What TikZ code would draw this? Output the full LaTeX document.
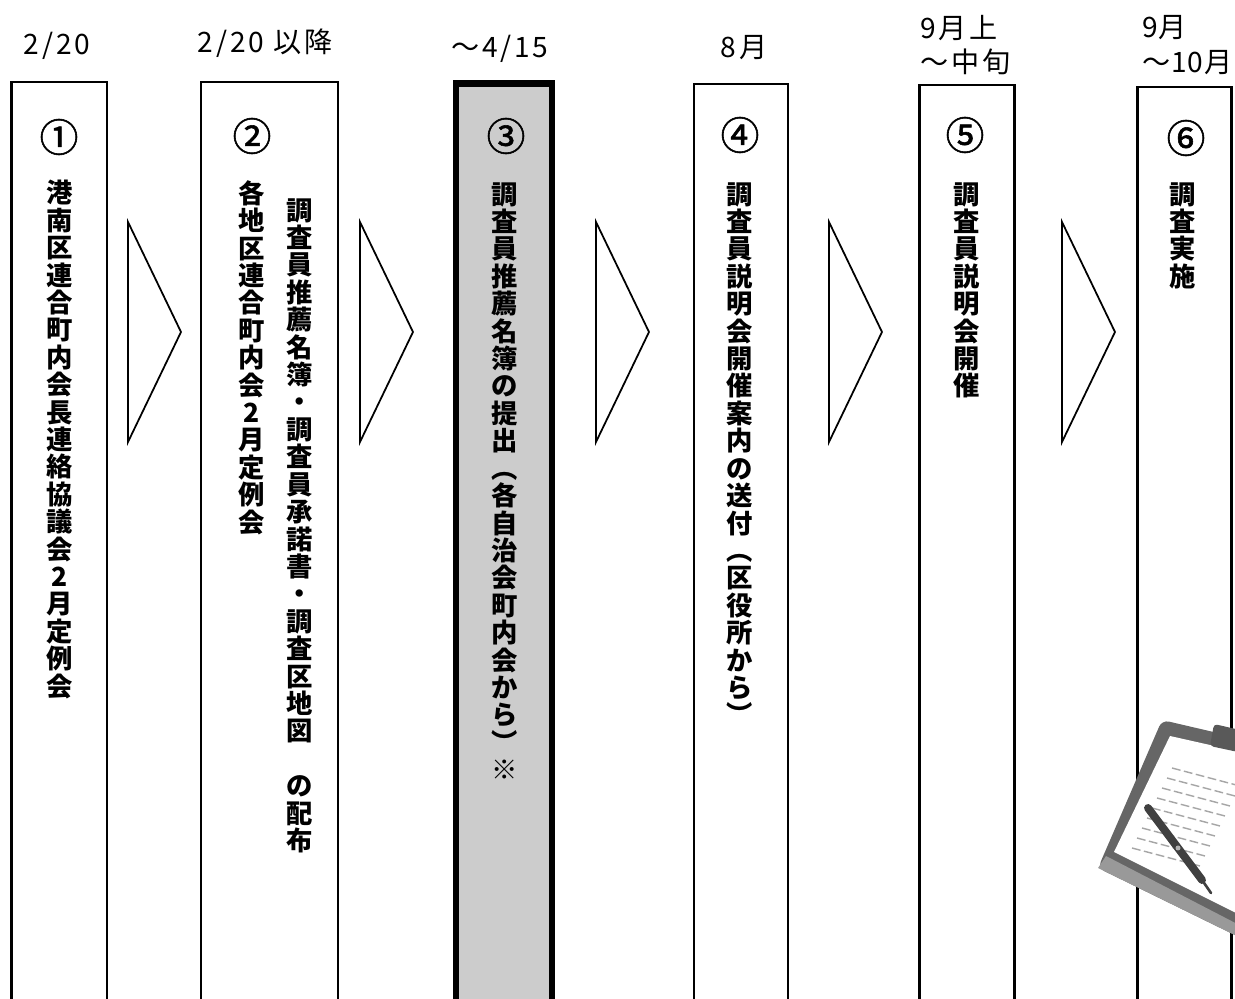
\documentclass[tikz,border=0pt]{standalone}
\usepackage{fontspec}
\usetikzlibrary{calc}
\setmainfont{Noto Sans CJK JP}
\newfontfamily\datefamily{Noto Sans CJK JP}[LetterSpace=10]
\newfontfamily\datetight{Noto Sans CJK JP}[LetterSpace=3]
\newfontfamily\nofamily{Noto Sans CJK JP}[FakeBold=1.5]
\def\txtsize{\fontsize{15pt}{15.6pt}\selectfont}

% one character per line, for the vertical labels
\makeatletter
\newcommand\tate[1]{\vbox{\baselineskip=15.6pt\lineskiplimit=-20pt
  \@tfor\tch:=#1\do{\hbox to 1em{\hss\tch\hss}}}}
\makeatother

\tikzset{
  stepcol/.style={draw, line width=1.4pt},
  nowcol/.style={draw, line width=3.8pt, fill=black!20},
  chevron/.style={draw, line width=1pt, line join=miter},
  datelabel/.style={font=\datefamily\fontsize{16pt}{19.8pt}\selectfont, inner sep=0pt},
  stepno/.style={font=\nofamily\fontsize{22pt}{24pt}\selectfont, inner sep=0pt},
  steptext/.style={font=\txtsize\bfseries, inner sep=0pt, anchor=north},
}

\begin{document}
\begin{tikzpicture}[x=0.02cm, y=-0.02cm]
    \useasboundingbox (0,0) rectangle (1235,999);
    \clip (0,0) rectangle (1235,999);

    % columns
    \foreach \l/\r/\t in {11.5/107/82, 201/338/82, 694/788/84, 919.5/1014.5/85, 1137.5/1231.5/87}
        \draw[stepcol] (\l,\t) rectangle (\r,1010);
    \draw[nowcol] (456,83.5) rectangle (552,1010);

    % arrows between the columns
    \foreach \x in {128,360,596,829,1062}
        \draw[chevron] (\x,222) -- ++(53,110) -- ++(-53,110) -- cycle;

    % dates
    \node[datelabel] (d1) at (57,46) {2/20};
    \node[datelabel] (d2) at (265,43) {2/20 以降};
    \node[datelabel] (d3) at (500,49) {～4/15};
    \node[datelabel] (d4) at (744,48) {8月};
    \node[datelabel, anchor=west, align=left] (d5) at (920,45) {9月上\\～中旬};
    \node[datelabel, font=\datetight\fontsize{16pt}{19.8pt}\selectfont, anchor=west, align=left] (d6) at (1142,45) {9月\\～10月};

    % step numbers
    \node[stepno] (n1) at (59,137) {①};
    \node[stepno] (n2) at (252,136) {②};
    \node[stepno] (n3) at (506,136) {③};
    \node[stepno] (n4) at (740,135) {④};
    \node[stepno] (n5) at (965,135) {⑤};
    \node[stepno] (n6) at (1186,138) {⑥};

    % vertical labels
    \node[steptext] (t1) at (60,180) {\tate{港南区連合町内会長連絡協議会2月定例会}};
    \node[steptext] (t2a) at (252,180) {\tate{各地区連合町内会2月定例会}};
    \node[steptext] (t2b) at (300,198) {\tate{調査員推薦名簿・調査員承諾書・調査区地図　の配布}};
    \node[steptext] (t3) at (505,182) {\tate{調査員推薦名簿の提出︵各自治会町内会から︶※}};
    \node[steptext] (t4) at (740,182) {\tate{調査員説明会開催案内の送付︵区役所から︶}};
    \node[steptext] (t5) at (967,182) {\tate{調査員説明会開催}};
    \node[steptext] (t6) at (1183,182) {\tate{調査実施}};

    % clipboard with pen
    \fill[black!60, rounded corners=4pt] (1162,720) -- (1265,744) -- (1245,940) -- (1098,868) -- cycle;
    \fill[black!40] (1098,868) -- (1245,940) -- (1245,928) -- (1106,856) -- cycle;
    \fill[white] (1170,736) -- (1250,754) -- (1240,915) -- (1114,852) -- cycle;
    \fill[black!65, rounded corners=2pt] (1214,724) -- (1240,730) -- (1238,752) -- (1210,746) -- cycle;
    \foreach \i in {0,...,8}
        \draw[black!35, line width=0.8pt, dash pattern=on 5pt off 2pt]
            ({1172-5*\i},{768+10*\i}) -- ++(68,18);
    \draw[black!75, line width=4.5pt, line cap=round] (1148,808) -- (1202,880);
    \draw[black!75, line width=1.5pt, line cap=round] (1202,880) -- (1211,893);
    \fill[black!30] (1178,848) circle (2.5);
\end{tikzpicture}
\end{document}
